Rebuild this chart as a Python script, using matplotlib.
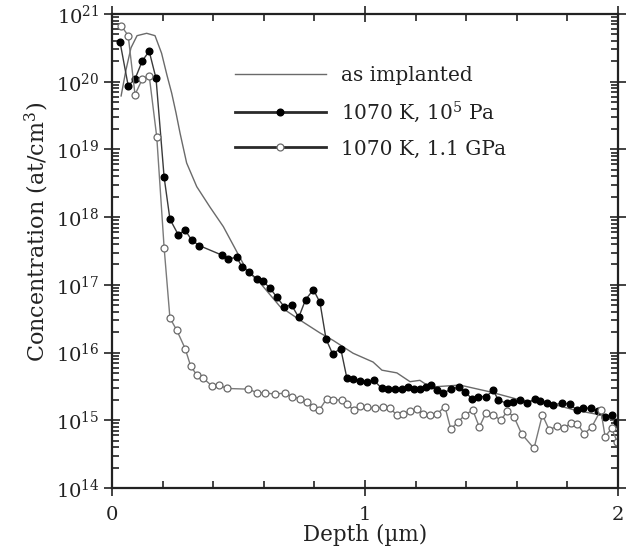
import matplotlib
matplotlib.use("Agg")
import matplotlib.pyplot as plt
from matplotlib.ticker import MultipleLocator, LogLocator, LogFormatterMathtext, NullFormatter
import numpy as np

plt.rcParams['font.family'] = ['DejaVu Serif']
plt.rcParams['mathtext.fontset'] = 'dejavuserif'

# as implanted profile (depth um, log10 concentration)
impl_depth = [0.036, 0.055, 0.075, 0.099, 0.137, 0.17, 0.196, 0.217, 0.236, 0.253, 0.269,
              0.295, 0.335, 0.387, 0.44, 0.486, 0.532, 0.585, 0.664, 0.743, 0.822, 0.874,
              0.953, 1.032, 1.067, 1.126, 1.178, 1.217, 1.257, 1.375, 1.494, 1.613, 1.731,
              1.83, 1.929, 1.996]
impl_log = [19.79, 20.17, 20.50, 20.68, 20.715, 20.68, 20.42, 20.10, 19.83, 19.54, 19.24,
            18.80, 18.45, 18.15, 17.86, 17.54, 17.22, 17.03, 16.68, 16.48, 16.29, 16.18,
            15.99, 15.86, 15.74, 15.70, 15.57, 15.59, 15.49, 15.52, 15.42, 15.30, 15.25,
            15.15, 15.08, 14.97]

# 1070 K, 10^5 Pa (filled circles)
pa_depth = [0.032, 0.064, 0.091, 0.120, 0.147, 0.174, 0.206, 0.229, 0.262, 0.289, 0.315,
            0.345, 0.434, 0.460, 0.493, 0.513, 0.542, 0.574, 0.598, 0.625, 0.651, 0.680,
            0.710, 0.738, 0.765, 0.796, 0.822, 0.846, 0.872, 0.904, 0.928, 0.954, 0.980,
            1.007, 1.036, 1.066, 1.092, 1.119, 1.145, 1.168, 1.193, 1.217, 1.240, 1.259,
            1.283, 1.310, 1.339, 1.370, 1.395, 1.422, 1.448, 1.478, 1.507, 1.527, 1.560,
            1.586, 1.613, 1.639, 1.672, 1.692, 1.718, 1.744, 1.777, 1.810, 1.837, 1.863,
            1.892, 1.922, 1.949, 1.975, 1.997]
pa_log = [20.58, 19.94, 20.04, 20.31, 20.45, 20.05, 18.59, 17.97, 17.74, 17.81, 17.66,
          17.58, 17.44, 17.38, 17.41, 17.27, 17.19, 17.08, 17.05, 16.95, 16.82, 16.68,
          16.70, 16.52, 16.78, 16.93, 16.74, 16.20, 15.98, 16.06, 15.63, 15.61, 15.58,
          15.56, 15.59, 15.47, 15.46, 15.46, 15.46, 15.49, 15.46, 15.46, 15.49, 15.52,
          15.45, 15.40, 15.46, 15.49, 15.42, 15.32, 15.35, 15.35, 15.44, 15.30, 15.25,
          15.27, 15.30, 15.25, 15.32, 15.29, 15.25, 15.23, 15.25, 15.24, 15.15, 15.18,
          15.18, 15.13, 15.05, 15.08, 14.98]

# 1070 K, 1.1 GPa (open circles)
gpa_depth = [0.036, 0.064, 0.091, 0.120, 0.147, 0.177, 0.206, 0.229, 0.256, 0.289, 0.311,
             0.335, 0.361, 0.394, 0.424, 0.453, 0.539, 0.572, 0.605, 0.644, 0.684, 0.710,
             0.743, 0.770, 0.796, 0.819, 0.849, 0.875, 0.908, 0.928, 0.957, 0.980, 1.007,
             1.040, 1.070, 1.099, 1.125, 1.151, 1.178, 1.204, 1.230, 1.257, 1.283, 1.316,
             1.339, 1.369, 1.395, 1.426, 1.452, 1.478, 1.507, 1.536, 1.562, 1.589, 1.619,
             1.668, 1.701, 1.728, 1.758, 1.787, 1.813, 1.839, 1.866, 1.896, 1.932, 1.949,
             1.975, 1.997]
gpa_log = [20.83, 20.68, 19.81, 20.04, 20.09, 19.18, 17.55, 16.51, 16.33, 16.06, 15.80,
           15.67, 15.62, 15.51, 15.52, 15.47, 15.46, 15.41, 15.40, 15.39, 15.40, 15.35,
           15.32, 15.27, 15.20, 15.15, 15.32, 15.30, 15.30, 15.24, 15.15, 15.21, 15.19,
           15.18, 15.19, 15.18, 15.08, 15.10, 15.13, 15.16, 15.09, 15.08, 15.09, 15.20,
           14.87, 14.98, 15.08, 15.15, 14.90, 15.11, 15.08, 15.00, 15.13, 15.05, 14.80,
           14.585, 15.08, 14.86, 14.91, 14.88, 14.96, 14.95, 14.80, 14.90, 15.15, 14.76,
           14.88, 14.68]

labels = ["as implanted", "1070 K, 10$^5$ Pa", "1070 K, 1.1 GPa"]

fig = plt.figure(figsize=(6.28, 5.52), dpi=100)
ax = fig.add_axes([112/628, 1-488/552, 506/628, 474/552])

ax.plot(impl_depth, np.power(10.0, impl_log), color='#6a6a6a', lw=1.0, label=labels[0])
ax.plot(pa_depth, np.power(10.0, pa_log), color='#3a3a3a', lw=1.0, marker='o', ms=4.8,
        mfc='black', mec='black', label=labels[1])
ax.plot(gpa_depth, np.power(10.0, gpa_log), color='#7a7a7a', lw=1.0, marker='o', ms=5.0,
        mfc='white', mec='#6a6a6a', mew=0.9, label=labels[2])

ax.set_yscale('log')
ax.set_xlim(0, 2)
ax.set_ylim(1e14, 1e21)
ax.xaxis.set_major_locator(MultipleLocator(1))
ax.xaxis.set_minor_locator(MultipleLocator(0.2))
ax.xaxis.set_major_formatter(plt.FuncFormatter(lambda v, p: f"{v:g}"))
ax.yaxis.set_major_locator(LogLocator(base=10, numticks=20))
ax.yaxis.set_minor_locator(LogLocator(base=10, subs=np.arange(2, 10), numticks=20))
ax.yaxis.set_minor_formatter(NullFormatter())
ax.yaxis.set_major_formatter(LogFormatterMathtext())

ax.tick_params(which='both', top=True, right=True, labelsize=14, width=1.2,
               colors='#222222')
ax.tick_params(which='major', direction='inout', length=12)
ax.tick_params(which='minor', direction='in', length=5)
ax.tick_params(axis='x', which='major', pad=7)
ax.tick_params(axis='y', which='major', pad=3)
for s in ax.spines.values():
    s.set_linewidth(1.6)
    s.set_color('#222222')

ax.set_xlabel("Depth (µm)", fontsize=15.5, color='#222222', labelpad=0)
ax.set_ylabel("Concentration (at/cm$^3$)", fontsize=16, color='#222222')
ax.yaxis.set_label_coords(-0.12, 0.54)

leg = ax.legend(loc='upper left', bbox_to_anchor=((235-112)/506, 0.89),
                frameon=False, fontsize=14.5, handlelength=4.5, handletextpad=0.75,
                labelspacing=0.72, borderpad=0, borderaxespad=0, numpoints=1)
for l in leg.get_lines()[1:]:
    l.set_linewidth(2.0)
    l.set_color('#2a2a2a')
for t in leg.get_texts():
    t.set_color('#222222')

fig.savefig("out.png", dpi=100)
